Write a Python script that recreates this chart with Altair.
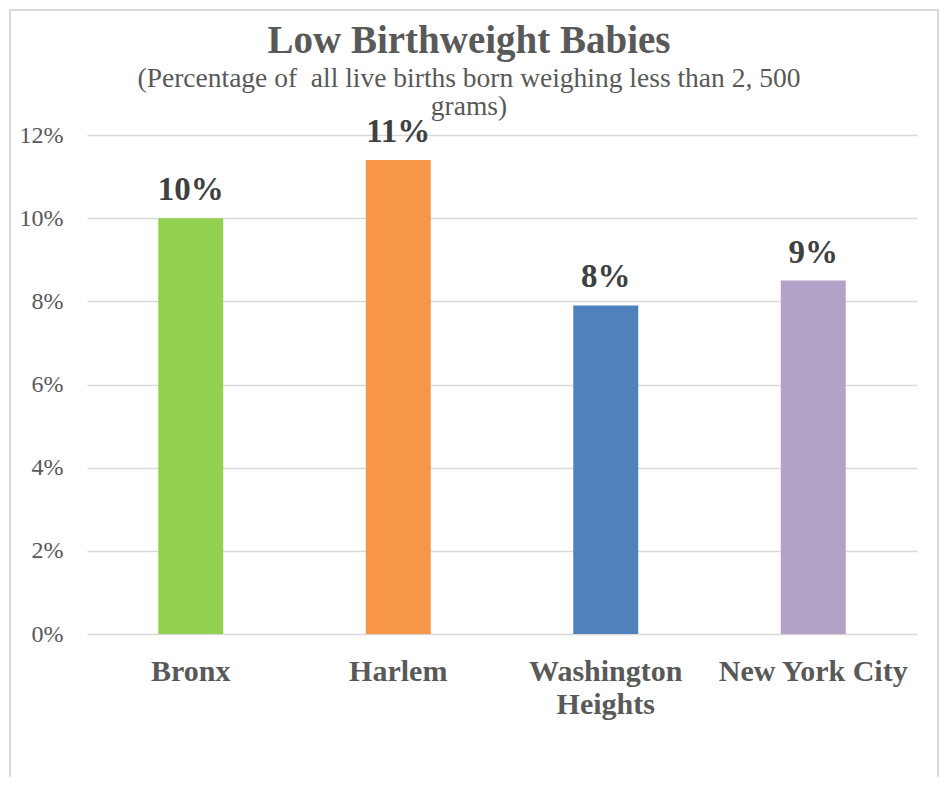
import altair as alt
import pandas as pd

categories = ["Bronx", "Harlem", "Washington Heights", "New York City"]
values = [0.100, 0.114, 0.079, 0.085]
labels = ["10%", "11%", "8%", "9%"]
colors = ["#92d050", "#f79646", "#4f81bd", "#b2a2c7"]
y_ticks = [0, 0.02, 0.04, 0.06, 0.08, 0.10, 0.12]

df = pd.DataFrame({"area": categories, "value": values, "label": labels})

FONT = "Liberation Serif"
GREY = "#595959"

x = alt.X(
    "area:N",
    sort=categories,
    title=None,
    scale=alt.Scale(paddingInner=0.687, paddingOuter=0.3435),
    axis=alt.Axis(
        labelFont=FONT, labelFontSize=30, labelFontWeight="bold", labelColor=GREY,
        labelAngle=0, labelPadding=22, labelLineHeight=33, labelBaseline="top",
        labelLimit=0,
        labelExpr="datum.label == 'Washington Heights' ? ['Washington', 'Heights'] : datum.label",
        ticks=False, domain=False, grid=False,
    ),
)
y = alt.Y(
    "value:Q",
    title=None,
    scale=alt.Scale(domain=[0, 0.12], nice=False),
    axis=alt.Axis(
        values=y_ticks, format=".0%", labelFont=FONT, labelFontSize=24, labelColor=GREY,
        labelPadding=24, ticks=False, domain=False, grid=True, gridColor="#d9d9d9",
        gridWidth=1.5,
    ),
)

bars = alt.Chart(df).mark_bar().encode(
    x=x, y=y,
    color=alt.Color("area:N", scale=alt.Scale(domain=categories, range=colors), legend=None),
)
text = alt.Chart(df).mark_text(
    font=FONT, fontSize=33, fontWeight="bold", color="#404040", baseline="alphabetic", dy=-18
).encode(x=alt.X("area:N", sort=categories), y="value:Q", text="label:N")

border = alt.Chart(pd.DataFrame({"b": [0]})).mark_rect(
    filled=False, stroke="#d9d9d9", strokeWidth=2
).encode(x=alt.value(-77), x2=alt.value(851), y=alt.value(-125), y2=alt.value(700))

chart = alt.layer(border, bars, text).properties(
    width=830, height=499,
    autosize=alt.AutoSizeParams(type="none"),
    padding={"left": 79, "top": 127, "right": 23, "bottom": 143},
    title=alt.TitleParams(
        text="Low Birthweight Babies",
        subtitle=["(Percentage of\u00a0 all live births born weighing less than 2, 500", "grams)"],
        font=FONT, fontSize=39, fontWeight="bold", color=GREY,
        subtitleFont=FONT, subtitleFontSize=27.5, subtitleColor=GREY, subtitleLineHeight=28,
        subtitlePadding=4, anchor="middle", dx=-33, dy=117, offset=6,
    ),
).configure_view(stroke=None)

chart.save("out.html", embed_options={"renderer": "svg", "actions": False})
